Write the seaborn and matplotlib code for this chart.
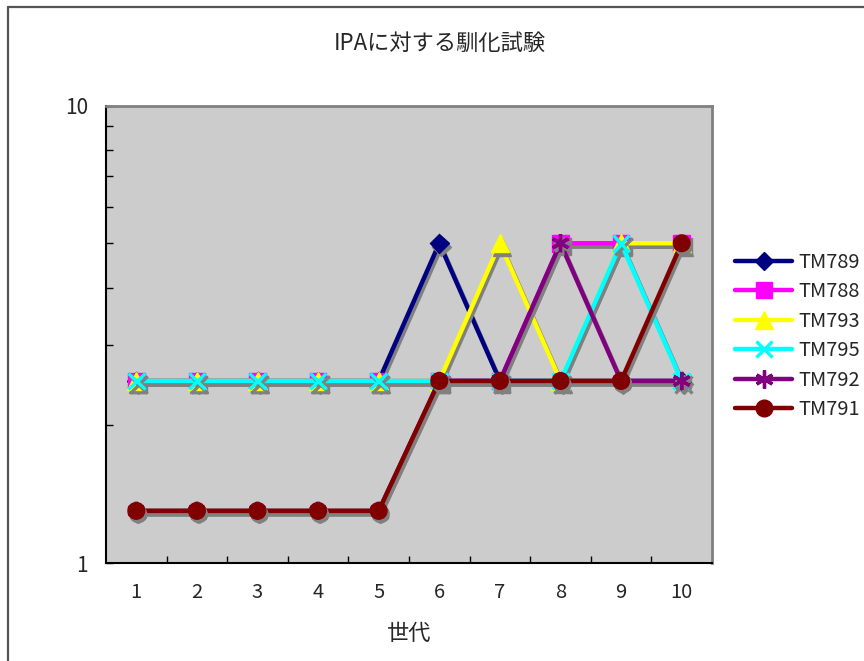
import matplotlib
matplotlib.use("Agg")
import matplotlib.pyplot as plt
import matplotlib.patheffects as pe
from matplotlib.colors import to_rgb
from matplotlib.lines import Line2D
from matplotlib.ticker import FixedLocator, NullFormatter
import seaborn as sns
import pandas as pd

generations = [1, 2, 3, 4, 5, 6, 7, 8, 9, 10]
series_names = ["TM789", "TM788", "TM793", "TM795", "TM792", "TM791"]
tm789 = [2.5, 2.5, 2.5, 2.5, 2.5, 5, 2.5, 2.5, 2.5, 2.5]
tm788 = [2.5, 2.5, 2.5, 2.5, 2.5, 2.5, 2.5, 5, 5, 5]
tm793 = [2.5, 2.5, 2.5, 2.5, 2.5, 2.5, 5, 2.5, 5, 5]
tm795 = [2.5, 2.5, 2.5, 2.5, 2.5, 2.5, 2.5, 2.5, 5, 2.5]
tm792 = [1.3, 1.3, 1.3, 1.3, 1.3, 2.5, 2.5, 5, 2.5, 2.5]
tm791 = [1.3, 1.3, 1.3, 1.3, 1.3, 2.5, 2.5, 2.5, 2.5, 5]
values = [tm789, tm788, tm793, tm795, tm792, tm791]

title = "IPAに対する馴化試験"
xlabel = "世代"

colors = ["#000080", "#FF00FF", "#FFFF00", "#00FFFF", "#800080", "#800000"]
markers = ["D", "s", "^", "x", (6, 2, 0), "o"]
msizes = [9.5, 12, 13, 12, 13, 12]


class DropShadow(pe.AbstractPathEffect):
    """Gray offset copy: strokes for lines, filled for solid markers."""

    def __init__(self, offset=(1.5, -2.5), color="#808080"):
        super().__init__(offset)
        self.color = to_rgb(color)

    def draw_path(self, renderer, gc, tpath, affine, rgbFace=None):
        gc0 = renderer.new_gc()
        gc0.copy_properties(gc)
        gc0.set_foreground(self.color)
        gc0.set_alpha(1.0)
        face = self.color if rgbFace is not None else None
        renderer.draw_path(gc0, tpath, affine + self._offset_transform(renderer), face)
        gc0.restore()


sns.set_style("white")
plt.rcParams["font.family"] = ["Noto Sans CJK JP", "DejaVu Sans"]
plt.rcParams["xtick.direction"] = "in"
plt.rcParams["ytick.direction"] = "in"

fig = plt.figure(figsize=(8.64, 6.61), dpi=100)
ax = fig.add_axes([106 / 864, 1 - 563 / 661, (712 - 106) / 864, (563 - 105.5) / 661])
ax.set_facecolor("#CCCCCC")

effects = [DropShadow(), pe.Normal()]

handles = []
for name, vals, c, m, ms in zip(series_names, values, colors, markers, msizes):
    df = pd.DataFrame({"gen": generations, "val": vals})
    mew = 2.4 if m in ("x", (6, 2, 0)) else 1
    sns.lineplot(data=df, x="gen", y="val", ax=ax, color=c, linewidth=3.2,
                 marker=m, markersize=ms, markeredgecolor=c, markerfacecolor=c,
                 markeredgewidth=mew, path_effects=effects, legend=False)
    handles.append(Line2D([], [], color=c, linewidth=3.2, marker=m, markersize=ms,
                          markeredgecolor=c, markerfacecolor=c,
                          markeredgewidth=mew, label=name))

ax.set_yscale("log")
ax.set_ylim(1, 10)
ax.set_xlim(0.5, 10.5)
ax.yaxis.set_major_locator(FixedLocator([1, 10]))
ax.set_yticklabels(["1", "10"])
ax.yaxis.set_minor_locator(FixedLocator([2, 3, 4, 5, 6, 7, 8, 9]))
ax.yaxis.set_minor_formatter(NullFormatter())
ax.set_xticks(generations)
ax.set_xticklabels([str(g) for g in generations])
ax.xaxis.set_minor_locator(FixedLocator([g + 0.5 for g in generations[:-1]]))

ax.tick_params(axis="x", which="major", length=0, pad=14, labelsize=14.5)
ax.tick_params(axis="x", which="minor", length=5, width=1, direction="in",
               color="black", bottom=True)
ax.tick_params(axis="y", which="both", length=5, width=1, direction="in",
               color="black", labelsize=15, pad=13, left=True)

for side in ["left", "bottom"]:
    ax.spines[side].set_color("black")
    ax.spines[side].set_linewidth(1.5)
for side in ["top", "right"]:
    ax.spines[side].set_color("#808080")
    ax.spines[side].set_linewidth(2)

ax.set_xlabel(xlabel, fontsize=16, labelpad=13)
ax.set_ylabel("")
fig.text(440 / 864, 1 - 43 / 661, title, ha="center", va="center", fontsize=16)

fig.legend(handles=handles, loc="upper left", bbox_to_anchor=(735 / 864, 1 - 252 / 661),
           frameon=False, fontsize=14.4, handlelength=2.85, handletextpad=0.3,
           labelspacing=0.42, borderaxespad=0, borderpad=0)

# outer frame along the left and top edges
fig.add_artist(Line2D([8 / 864, 8 / 864], [0, 1 - 7 / 661], transform=fig.transFigure,
                      color="#555555", linewidth=1.6))
fig.add_artist(Line2D([8 / 864, 1], [1 - 7 / 661, 1 - 7 / 661], transform=fig.transFigure,
                      color="#555555", linewidth=1.6))

fig.savefig("out.png", dpi=100)
